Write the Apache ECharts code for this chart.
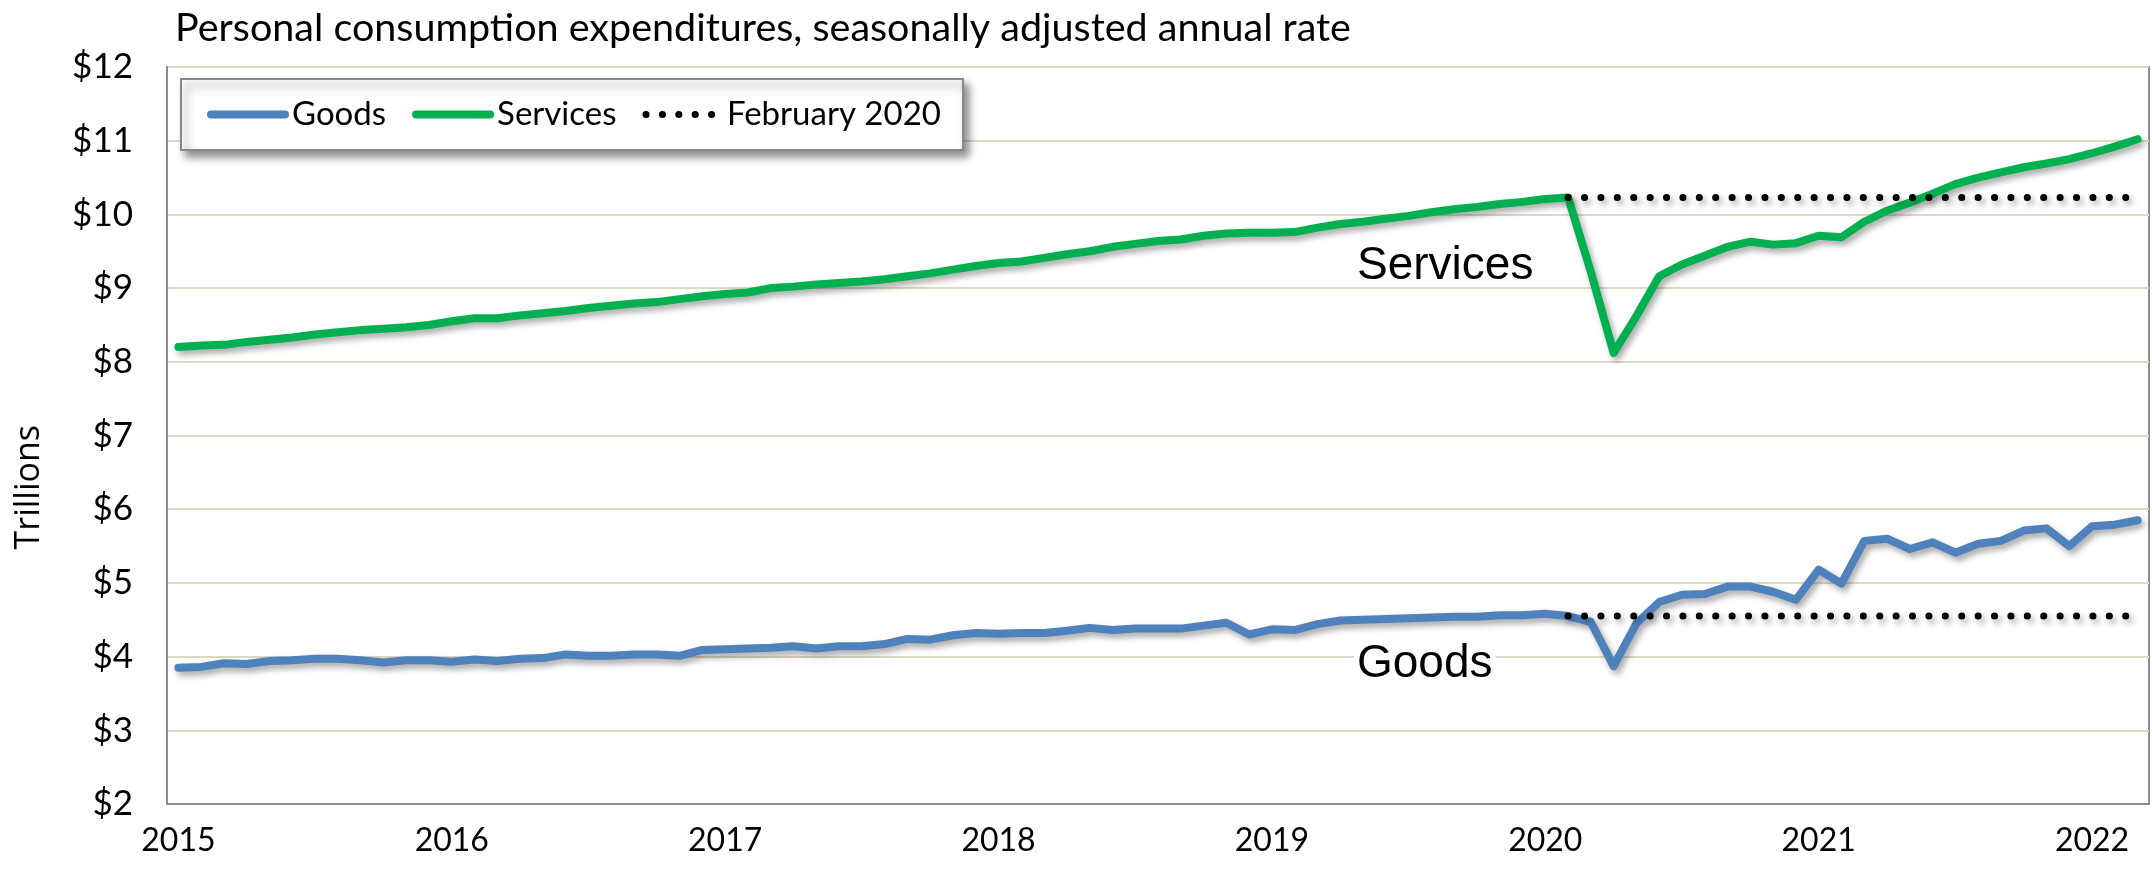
<!DOCTYPE html>
<html>
<head>
<meta charset="utf-8">
<script src="https://cdn.jsdelivr.net/npm/echarts@6/dist/echarts.min.js"></script>
<style>
  html, body { margin: 0; padding: 0; background: #fff; }
  #chart { width: 2152px; height: 869px; }
</style>
</head>
<body>
<div id="chart"></div>
<script>
// ---- data (trillions of dollars, SAAR), monthly Jan 2015 .. Mar 2022 ----
const years = ['2015', '2016', '2017', '2018', '2019', '2020', '2021', '2022'];
const monthsPerYear = ['01','02','03','04','05','06','07','08','09','10','11','12'];
const lastMonth = '2022-03';
const refMonth = '2020-02';

const goods = [
  3.85, 3.86, 3.91, 3.90, 3.94, 3.95, 3.97, 3.97, 3.95, 3.92, 3.95, 3.95,
  3.93, 3.96, 3.94, 3.97, 3.98, 4.03, 4.01, 4.01, 4.03, 4.03, 4.01, 4.09,
  4.10, 4.11, 4.12, 4.14, 4.11, 4.14, 4.14, 4.17, 4.24, 4.23, 4.29, 4.32,
  4.31, 4.32, 4.32, 4.35, 4.39, 4.36, 4.38, 4.38, 4.38, 4.42, 4.46, 4.30,
  4.37, 4.36, 4.44, 4.49, 4.50, 4.51, 4.52, 4.53, 4.54, 4.54, 4.56, 4.56,
  4.58, 4.55, 4.47, 3.87, 4.45, 4.74, 4.84, 4.85, 4.95, 4.95, 4.88, 4.77,
  5.18, 4.99, 5.57, 5.60, 5.46, 5.55, 5.41, 5.53, 5.57, 5.71, 5.74, 5.50,
  5.77, 5.79, 5.85
];
const services = [
  8.20, 8.22, 8.23, 8.27, 8.30, 8.33, 8.37, 8.40, 8.43, 8.45, 8.47, 8.50,
  8.55, 8.59, 8.59, 8.63, 8.66, 8.69, 8.73, 8.76, 8.79, 8.81, 8.85, 8.89,
  8.92, 8.94, 9.00, 9.02, 9.05, 9.07, 9.09, 9.12, 9.16, 9.20, 9.25, 9.30,
  9.34, 9.36, 9.41, 9.46, 9.50, 9.56, 9.60, 9.64, 9.66, 9.71, 9.74, 9.75,
  9.75, 9.76, 9.82, 9.87, 9.90, 9.94, 9.98, 10.03, 10.07, 10.10, 10.14, 10.17,
  10.21, 10.23, 9.22, 8.12, 8.62, 9.16, 9.32, 9.44, 9.56, 9.63, 9.59, 9.61,
  9.71, 9.69, 9.90, 10.05, 10.16, 10.28, 10.41, 10.50, 10.57, 10.64, 10.69, 10.75,
  10.83, 10.92, 11.02
];
const yTicks = [2, 3, 4, 5, 6, 7, 8, 9, 10, 11, 12];

// categories: one per month
const categories = [];
for (const y of years) for (const m of monthsPerYear) {
  const c = y + '-' + m;
  if (c <= lastMonth) categories.push(c);
}
const refIdx = categories.indexOf(refMonth);
const goodsRef = goods.map((v, i) => i >= refIdx ? goods[refIdx] : null);
const servicesRef = services.map((v, i) => i >= refIdx ? services[refIdx] : null);

const BLUE = '#4F81BD';
const GREEN = '#00B050';
const FONT = 'Lato';

const chart = echarts.init(document.getElementById('chart'), null, { renderer: 'canvas' });

const lineShadow = { shadowColor: 'rgba(0,0,0,0.35)', shadowBlur: 6, shadowOffsetX: 3, shadowOffsetY: 4 };
const noShadow = { shadowBlur: 0, shadowOffsetX: 0, shadowOffsetY: 0, shadowColor: 'transparent' };

chart.setOption({
  animation: false,
  backgroundColor: '#ffffff',
  title: {
    text: 'Personal consumption expenditures, seasonally adjusted annual rate',
    left: 170, top: 3,
    textStyle: { fontFamily: FONT, fontSize: 39.5, fontWeight: 'normal', color: '#000' }
  },
  legend: {
    left: 181, top: 79,
    orient: 'horizontal',
    itemWidth: 74, itemHeight: 10, itemGap: 26,
    padding: [19, 22, 19, 26],
    backgroundColor: '#fff',
    borderColor: '#888', borderWidth: 2,
    shadowColor: 'rgba(0,0,0,0.45)', shadowBlur: 8, shadowOffsetX: 5, shadowOffsetY: 6,
    textStyle: { fontFamily: FONT, fontSize: 33, color: '#000', padding: [0, 0, 0, 2] },
    itemStyle: { opacity: 0 },
    data: [
      { name: 'Goods', lineStyle: Object.assign({ width: 8, cap: 'round' }, noShadow) },
      { name: 'Services', lineStyle: Object.assign({ width: 8, cap: 'round' }, noShadow) },
      { name: 'February 2020', lineStyle: Object.assign({ width: 7, cap: 'round', type: [0.1, 16.3] }, noShadow) }
    ]
  },
  grid: {
    left: 167, right: 3, top: 67, bottom: 65,
    show: true, borderColor: '#8c8c8c', borderWidth: 2, backgroundColor: 'transparent'
  },
  xAxis: {
    type: 'category',
    data: categories,
    boundaryGap: true,
    axisLine: { show: true, lineStyle: { color: '#8c8c8c', width: 2 } },
    axisTick: { show: false },
    axisLabel: {
      interval: (i) => i % 12 === 0,
      formatter: (v) => v.slice(0, 4),
      fontFamily: FONT, fontSize: 32, color: '#000', margin: 21
    },
    splitLine: { show: false }
  },
  yAxis: {
    type: 'value',
    min: yTicks[0], max: yTicks[yTicks.length - 1], interval: 1,
    axisLine: { show: true, lineStyle: { color: '#8c8c8c', width: 2 } },
    axisTick: { show: false },
    axisLabel: {
      formatter: (v) => '$' + v,
      fontFamily: FONT, fontSize: 35, color: '#000', margin: 34
    },
    splitLine: { show: true, lineStyle: { color: '#ddd9c3', width: 2 } }
  },
  graphic: [
    { type: 'text', left: 12, top: 425, rotation: Math.PI / 2,
      style: { text: 'Trillions', font: '34px "Open Sans"', fill: '#000' } },
    { type: 'text', left: 1357, top: 243, z: 10,
      style: { text: 'Services', font: '46px "Liberation Sans"', fill: '#000' } },
    { type: 'text', left: 1354, top: 641, z: 10,
      style: { text: 'Goods', font: '46px "Liberation Sans"', fill: '#000',
               backgroundColor: '#fff', padding: [0, 3, 0, 3] } }
  ],
  series: [
    { name: 'Goods', type: 'line', data: goods, symbol: 'none', z: 3,
      lineStyle: Object.assign({ color: BLUE, width: 8, join: 'round', cap: 'round' }, lineShadow),
      itemStyle: { color: BLUE } },
    { name: 'Services', type: 'line', data: services, symbol: 'none', z: 3,
      lineStyle: Object.assign({ color: GREEN, width: 8, join: 'round', cap: 'round' }, lineShadow),
      itemStyle: { color: GREEN } },
    { name: 'February 2020', type: 'line', data: servicesRef, symbol: 'none', z: 4,
      lineStyle: Object.assign({ color: '#000', width: 7, cap: 'round', type: [0.1, 16.3] }, lineShadow),
      itemStyle: { color: '#000' } },
    { name: 'February 2020', type: 'line', data: goodsRef, symbol: 'none', z: 4,
      lineStyle: Object.assign({ color: '#000', width: 7, cap: 'round', type: [0.1, 16.3] }, lineShadow),
      itemStyle: { color: '#000' } }
  ]
});
</script>
</body>
</html>
